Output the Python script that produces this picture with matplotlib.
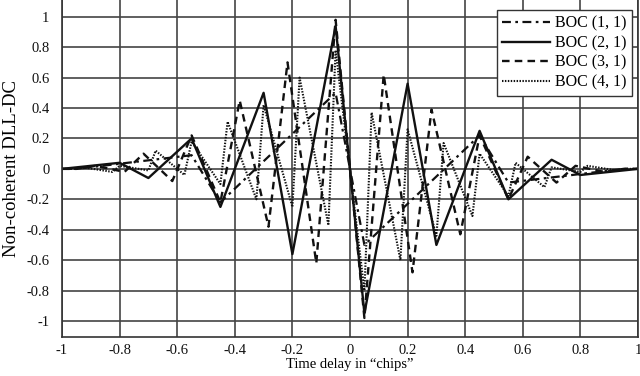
import matplotlib
matplotlib.use("Agg")
import matplotlib.pyplot as plt

# ---- data ----
x_boc11 = [-1, -0.95, -0.55, -0.45, -0.05, 0.05, 0.45, 0.55, 0.95, 1]
y_boc11 = [0, 0, 0.09, -0.22, 0.5, -0.5, 0.22, -0.09, 0, 0]

x_boc21 = [-1, -0.8, -0.7, -0.55, -0.45, -0.3, -0.2, -0.05, 0.05, 0.2, 0.3, 0.45, 0.55, 0.7, 0.8, 1]
y_boc21 = [0, 0.04, -0.06, 0.2, -0.25, 0.5, -0.56, 0.94, -0.95, 0.56, -0.5, 0.25, -0.2, 0.06, -0.04, 0]

x_boc31 = [-1, -0.95, -0.883, -0.783, -0.717, -0.617, -0.55, -0.45, -0.383, -0.283, -0.217, -0.117,
           -0.05, 0.05, 0.117, 0.217, 0.283, 0.383, 0.45, 0.55, 0.617, 0.717, 0.783, 0.883, 0.95, 1]
y_boc31 = [0, 0, 0.02, -0.02, 0.1, -0.08, 0.22, -0.22, 0.45, -0.38, 0.7, -0.62,
           0.98, -0.98, 0.62, -0.68, 0.39, -0.43, 0.22, -0.2, 0.08, -0.09, 0.02, -0.02, 0, 0]

x_boc41 = [-1, -0.95, -0.925, -0.825, -0.8, -0.7, -0.675, -0.575, -0.55, -0.45, -0.425, -0.325,
           -0.3, -0.2, -0.175, -0.075, -0.05, 0.05, 0.075, 0.175, 0.2, 0.3, 0.325, 0.425, 0.45,
           0.55, 0.575, 0.675, 0.7, 0.8, 0.825, 0.925, 0.95, 1]
y_boc41 = [0, 0, 0.01, -0.02, 0.02, -0.01, 0.12, -0.04, 0.18, -0.1, 0.31, -0.2,
           0.42, -0.25, 0.6, -0.37, 0.78, -0.8, 0.37, -0.6, 0.26, -0.44, 0.17, -0.31, 0.1,
           -0.18, 0.04, -0.12, 0.01, -0.02, 0.02, -0.01, 0, 0]

labels = ["BOC (1, 1)", "BOC (2, 1)", "BOC (3, 1)", "BOC (4, 1)"]
x_ticks = [-1, -0.8, -0.6, -0.4, -0.2, 0, 0.2, 0.4, 0.6, 0.8, 1]
x_tick_labels = ["-1", "-0.8", "-0.6", "-0.4", "-0.2", "0", "0.2", "0.4", "0.6", "0.8", "1"]
y_ticks = [1, 0.8, 0.6, 0.4, 0.2, 0, -0.2, -0.4, -0.6, -0.8, -1]
y_tick_labels = ["1", "0.8", "0.6", "0.4", "0.2", "0", "-0.2", "-0.4", "-0.6", "-0.8", "-1"]

plt.rcParams['font.family'] = ['Liberation Serif', 'DejaVu Serif']

fig = plt.figure(figsize=(6.4, 3.76), dpi=100)
ax = fig.add_axes([62/640, 39/376, 576/640, 337/376])

lc = '#111111'
ax.plot(x_boc11, y_boc11, color=lc, lw=1.6, linestyle=(0, (4, 2, 1.2, 2)), label=labels[0])
ax.plot(x_boc21, y_boc21, color=lc, lw=1.7, linestyle='-', label=labels[1])
ax.plot(x_boc31, y_boc31, color=lc, lw=1.7, linestyle=(0, (3.2, 2.2)), label=labels[2])
ax.plot(x_boc41, y_boc41, color=lc, lw=1.5, linestyle=(0, (0.7, 0.7)), label=labels[3])

ax.set_xlim(-1, 1)
ax.set_ylim(-1.105, 1.11)
ax.set_xticks(x_ticks)
ax.set_xticklabels(x_tick_labels)
ax.set_yticks(y_ticks)
ax.set_yticklabels(y_tick_labels)
ax.tick_params(axis='both', length=0, labelsize=10.5, colors='#111111')
ax.tick_params(axis='x', pad=5)
ax.tick_params(axis='y', pad=9)
ax.grid(True, color='#444444', lw=1.2)
ax.set_axisbelow(True)
for s in ['left', 'bottom', 'right']:
    ax.spines[s].set_color('#333333')
    ax.spines[s].set_linewidth(1.2)
ax.spines['top'].set_visible(False)

ax.set_xlabel("Time delay in \u201cchips\u201d", fontsize=10.5, labelpad=1)
ax.set_ylabel("Non-coherent DLL-DC", fontsize=13.5, labelpad=5)

leg = ax.legend(loc='upper right', bbox_to_anchor=(0.99, 0.97), borderaxespad=0,
                fontsize=11.5, handlelength=3.0, handletextpad=0.3, labelspacing=0.22,
                fancybox=False, framealpha=1, edgecolor='#333333', borderpad=0.35)
leg.get_frame().set_linewidth(1.0)

fig.savefig("out.png", dpi=100)
